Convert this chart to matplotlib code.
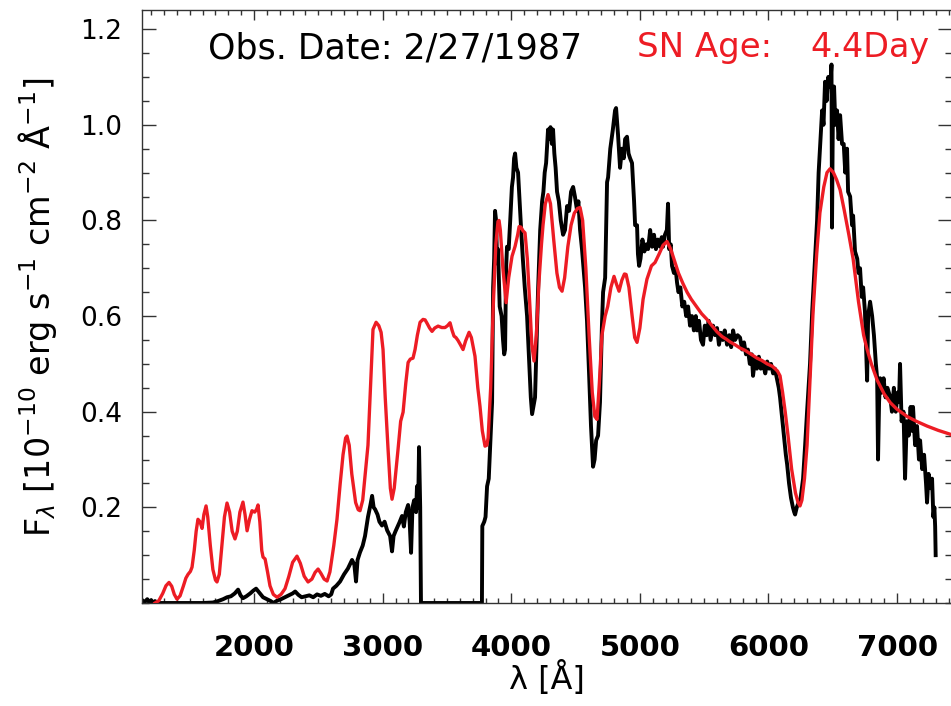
#!/usr/bin/env python3
import matplotlib
matplotlib.use("Agg")
import matplotlib.pyplot as plt
from matplotlib.ticker import MultipleLocator, FixedLocator

wl_obs = [
    1130, 1150, 1170, 1185, 1200, 1215, 1230, 1250, 1400, 1600, 1680, 1720,
    1760, 1790, 1820, 1850, 1876, 1895, 1914, 1940, 1970, 1995, 2016, 2040,
    2070, 2100, 2130, 2150, 2180, 2210, 2240, 2270, 2300, 2320, 2345, 2370,
    2400, 2430, 2460, 2490, 2520, 2550, 2580, 2600, 2614, 2640, 2669, 2700,
    2730, 2762, 2780, 2793, 2805, 2824, 2845, 2863, 2886, 2905, 2918, 2930,
    2941, 2960, 2975, 2995, 3015, 3035, 3058, 3073, 3085, 3100, 3112, 3130,
    3151, 3165, 3180, 3198, 3210, 3221, 3232, 3245, 3260, 3267, 3276, 3283,
    3292, 3298, 3400, 3600, 3772, 3775, 3790, 3800, 3812, 3825, 3840, 3851,
    3859, 3867, 3874, 3882, 3890, 3897, 3910, 3925, 3936, 3945, 3952, 3960,
    3967, 3980, 3992, 4005, 4014, 4022, 4030, 4040, 4053, 4065, 4077, 4090,
    4105, 4123, 4140, 4152, 4162, 4172, 4185, 4198, 4208, 4225, 4240, 4250,
    4260, 4271, 4286, 4296, 4305, 4316, 4325, 4335, 4345, 4356, 4370, 4385,
    4403, 4418, 4434, 4450, 4465, 4481, 4495, 4512, 4522, 4535, 4550, 4574,
    4589, 4605, 4620, 4636, 4648, 4660, 4675, 4690, 4705, 4714, 4730, 4745,
    4753, 4770, 4790, 4807, 4815, 4830, 4846, 4861, 4875, 4885, 4900, 4912,
    4924, 4939, 4955, 4963, 4978, 4985, 4994, 5005, 5020, 5035, 5050, 5064,
    5080, 5095, 5110, 5125, 5140, 5157, 5170, 5180, 5195, 5210, 5219, 5228,
    5240, 5250, 5265, 5278, 5289, 5300, 5315, 5330, 5345, 5360, 5375, 5390,
    5405, 5420, 5435, 5445, 5460, 5475, 5491, 5505, 5520, 5535, 5550, 5569,
    5585, 5600, 5615, 5630, 5645, 5660, 5678, 5695, 5710, 5725, 5740, 5760,
    5779, 5795, 5810, 5825, 5840, 5855, 5870, 5880, 5895, 5910, 5925, 5940,
    5958, 5975, 5990, 6005, 6020, 6036, 6050, 6065, 6080, 6090, 6105, 6120,
    6135, 6145, 6160, 6175, 6190, 6200, 6207, 6220, 6235, 6250, 6269, 6285,
    6300, 6323, 6340, 6350, 6362, 6378, 6390, 6405, 6417, 6428, 6440, 6452,
    6465, 6480, 6490, 6494, 6500, 6510, 6520, 6533, 6545, 6557, 6572, 6585,
    6597, 6611, 6619, 6635, 6650, 6658, 6673, 6690, 6700, 6712, 6725, 6736,
    6750, 6767, 6775, 6790, 6806, 6820, 6835, 6845, 6852, 6860, 6868, 6880,
    6895, 6910, 6925, 6947, 6960, 6975, 6990, 7005, 7015, 7023, 7035, 7050,
    7062, 7075, 7090, 7105, 7115, 7124, 7140, 7155, 7170, 7179, 7195, 7210,
    7225, 7233, 7245, 7260, 7272, 7282, 7290, 7296, 7300,
]
flux_obs = [
    0.006, 0.002, 0.008, 0.001, 0.006, 0.000, 0.004, 0.000, 0.000, 0.000, 0.001, 0.004,
    0.008, 0.012, 0.014, 0.020, 0.028, 0.016, 0.010, 0.014, 0.020, 0.026, 0.030, 0.022,
    0.012, 0.008, 0.004, 0.000, 0.005, 0.008, 0.012, 0.016, 0.020, 0.024, 0.017, 0.012,
    0.014, 0.016, 0.012, 0.018, 0.015, 0.019, 0.014, 0.018, 0.030, 0.036, 0.045, 0.060,
    0.072, 0.090, 0.080, 0.045, 0.090, 0.106, 0.120, 0.140, 0.180, 0.205, 0.224, 0.200,
    0.196, 0.185, 0.170, 0.162, 0.170, 0.152, 0.140, 0.108, 0.140, 0.150, 0.157, 0.168,
    0.182, 0.160, 0.190, 0.205, 0.170, 0.105, 0.200, 0.215, 0.190, 0.244, 0.200, 0.326,
    0.200, 0.000, 0.000, 0.000, 0.000, 0.161, 0.170, 0.180, 0.244, 0.260, 0.350, 0.420,
    0.660, 0.720, 0.820, 0.800, 0.710, 0.740, 0.620, 0.600, 0.550, 0.520, 0.530, 0.700,
    0.745, 0.740, 0.800, 0.870, 0.890, 0.930, 0.940, 0.910, 0.900, 0.840, 0.780, 0.720,
    0.660, 0.600, 0.500, 0.430, 0.395, 0.410, 0.430, 0.550, 0.650, 0.780, 0.840, 0.860,
    0.900, 0.920, 0.990, 0.970, 0.995, 0.960, 0.990, 0.940, 0.910, 0.860, 0.840, 0.800,
    0.770, 0.780, 0.830, 0.820, 0.860, 0.870, 0.850, 0.820, 0.840, 0.780, 0.740, 0.660,
    0.590, 0.480, 0.370, 0.285, 0.300, 0.340, 0.350, 0.420, 0.580, 0.650, 0.680, 0.880,
    0.890, 0.950, 0.990, 1.030, 1.035, 0.980, 0.910, 0.950, 0.930, 0.970, 0.975, 0.940,
    0.930, 0.920, 0.840, 0.790, 0.790, 0.730, 0.705, 0.720, 0.760, 0.735, 0.750, 0.740,
    0.780, 0.745, 0.770, 0.740, 0.760, 0.745, 0.765, 0.745, 0.770, 0.780, 0.835, 0.740,
    0.750, 0.705, 0.690, 0.700, 0.670, 0.650, 0.660, 0.620, 0.630, 0.600, 0.620, 0.580,
    0.600, 0.570, 0.600, 0.570, 0.590, 0.550, 0.540, 0.580, 0.560, 0.590, 0.550, 0.580,
    0.560, 0.575, 0.540, 0.565, 0.550, 0.570, 0.540, 0.560, 0.535, 0.570, 0.550, 0.560,
    0.555, 0.530, 0.545, 0.520, 0.530, 0.500, 0.520, 0.475, 0.510, 0.490, 0.515, 0.490,
    0.500, 0.480, 0.505, 0.490, 0.500, 0.480, 0.490, 0.470, 0.450, 0.430, 0.390, 0.350,
    0.310, 0.290, 0.250, 0.220, 0.200, 0.190, 0.185, 0.200, 0.210, 0.220, 0.260, 0.330,
    0.400, 0.500, 0.610, 0.660, 0.720, 0.800, 0.900, 0.970, 1.030, 1.000, 1.090, 1.050,
    1.100, 1.080, 1.126, 0.785, 1.000, 1.080, 1.000, 1.030, 0.970, 1.020, 0.960, 0.960,
    0.900, 0.950, 0.860, 0.850, 0.790, 0.810, 0.735, 0.720, 0.690, 0.700, 0.640, 0.660,
    0.610, 0.465, 0.600, 0.630, 0.600, 0.560, 0.500, 0.470, 0.300, 0.420, 0.470, 0.440,
    0.470, 0.430, 0.450, 0.430, 0.400, 0.450, 0.400, 0.440, 0.420, 0.500, 0.380, 0.400,
    0.260, 0.380, 0.350, 0.410, 0.360, 0.410, 0.330, 0.370, 0.300, 0.340, 0.280, 0.310,
    0.250, 0.210, 0.270, 0.240, 0.260, 0.180, 0.200, 0.160, 0.100,
]

# Model spectrum (red)
wl_mod = [
    1230, 1260, 1290, 1315, 1339, 1360, 1380, 1401, 1425, 1450, 1470, 1487,
    1505, 1518, 1535, 1550, 1564, 1580, 1596, 1610, 1627, 1640, 1660, 1680,
    1700, 1712, 1730, 1750, 1770, 1790, 1810, 1830, 1852, 1870, 1890, 1914,
    1930, 1946, 1965, 1984, 2005, 2020, 2031, 2045, 2060, 2070, 2086, 2105,
    2124, 2150, 2179, 2210, 2241, 2270, 2300, 2334, 2360, 2390, 2420, 2450,
    2475, 2498, 2520, 2545, 2568, 2590, 2620, 2645, 2670, 2692, 2712, 2723,
    2740, 2760, 2790, 2810, 2824, 2845, 2865, 2886, 2905, 2925, 2949, 2970,
    2988, 3003, 3020, 3042, 3060, 3073, 3090, 3120, 3140, 3159, 3180, 3198,
    3215, 3236, 3252, 3270, 3291, 3314, 3330, 3345, 3365, 3384, 3405, 3431,
    3460, 3485, 3505, 3524, 3540, 3555, 3570, 3586, 3605, 3625, 3645, 3672,
    3690, 3718, 3740, 3757, 3775, 3796, 3810, 3820, 3840, 3859, 3880, 3897,
    3905, 3915, 3935, 3960, 3980, 4006, 4030, 4050, 4061, 4075, 4092, 4107,
    4125, 4145, 4160, 4177, 4195, 4215, 4235, 4247, 4265, 4286, 4305, 4330,
    4355, 4375, 4395, 4415, 4440, 4465, 4490, 4515, 4535, 4555, 4580, 4605,
    4630, 4650, 4667, 4685, 4705, 4730, 4750, 4775, 4799, 4818, 4838, 4860,
    4880, 4893, 4915, 4940, 4960, 4978, 5000, 5025, 5055, 5090, 5118, 5150,
    5180, 5211, 5240, 5270, 5300, 5335, 5367, 5400, 5440, 5480, 5522, 5560,
    5600, 5640, 5670, 5701, 5740, 5780, 5820, 5860, 5911, 5950, 5990, 6030,
    6051, 6070, 6090, 6110, 6130, 6152, 6180, 6210, 6230, 6245, 6260, 6280,
    6300, 6320, 6347, 6375, 6400, 6430, 6455, 6479, 6505, 6530, 6557, 6590,
    6625, 6658, 6700, 6740, 6767, 6800, 6845, 6900, 6947, 7000, 7078, 7150,
    7233, 7320, 7412, 7430,
]
flux_mod = [
    0.000, 0.005, 0.020, 0.036, 0.043, 0.035, 0.018, 0.008, 0.015, 0.035, 0.052, 0.060,
    0.066, 0.075, 0.110, 0.150, 0.175, 0.170, 0.156, 0.185, 0.203, 0.180, 0.120, 0.070,
    0.048, 0.044, 0.060, 0.120, 0.180, 0.209, 0.190, 0.150, 0.134, 0.150, 0.190, 0.211,
    0.185, 0.151, 0.175, 0.193, 0.190, 0.196, 0.205, 0.170, 0.110, 0.096, 0.092, 0.065,
    0.036, 0.018, 0.012, 0.018, 0.030, 0.055, 0.085, 0.098, 0.083, 0.056, 0.044, 0.050,
    0.064, 0.071, 0.062, 0.050, 0.046, 0.065, 0.120, 0.175, 0.250, 0.310, 0.345, 0.349,
    0.330, 0.270, 0.210, 0.195, 0.193, 0.215, 0.270, 0.330, 0.450, 0.572, 0.587, 0.580,
    0.566, 0.530, 0.430, 0.322, 0.240, 0.217, 0.240, 0.322, 0.380, 0.399, 0.460, 0.503,
    0.510, 0.512, 0.530, 0.560, 0.587, 0.593, 0.592, 0.585, 0.575, 0.568, 0.575, 0.579,
    0.576, 0.576, 0.580, 0.586, 0.570, 0.558, 0.555, 0.549, 0.540, 0.530, 0.548, 0.566,
    0.555, 0.516, 0.450, 0.411, 0.360, 0.328, 0.330, 0.345, 0.450, 0.614, 0.750, 0.798,
    0.800, 0.780, 0.700, 0.628, 0.680, 0.725, 0.746, 0.770, 0.787, 0.786, 0.778, 0.774,
    0.720, 0.620, 0.540, 0.506, 0.560, 0.670, 0.750, 0.790, 0.835, 0.854, 0.835, 0.760,
    0.690, 0.660, 0.652, 0.680, 0.745, 0.790, 0.815, 0.825, 0.827, 0.800, 0.700, 0.560,
    0.440, 0.390, 0.384, 0.460, 0.560, 0.600, 0.620, 0.660, 0.683, 0.667, 0.652, 0.675,
    0.688, 0.687, 0.660, 0.600, 0.555, 0.545, 0.575, 0.635, 0.677, 0.705, 0.712, 0.730,
    0.748, 0.756, 0.740, 0.715, 0.690, 0.668, 0.650, 0.635, 0.620, 0.605, 0.593, 0.580,
    0.567, 0.557, 0.552, 0.546, 0.540, 0.533, 0.528, 0.521, 0.512, 0.507, 0.500, 0.495,
    0.490, 0.485, 0.475, 0.440, 0.400, 0.350, 0.280, 0.230, 0.210, 0.203, 0.215, 0.260,
    0.330, 0.450, 0.610, 0.730, 0.816, 0.870, 0.900, 0.908, 0.900, 0.885, 0.864, 0.820,
    0.770, 0.720, 0.630, 0.560, 0.530, 0.500, 0.466, 0.437, 0.419, 0.405, 0.390, 0.380,
    0.370, 0.361, 0.353, 0.350,
]

x_ticks = [2000, 3000, 4000, 5000, 6000, 7000]
y_ticks = [0.2, 0.4, 0.6, 0.8, 1.0, 1.2]

W, H = 951, 706
RED = "#ED1C24"


def plot():
    fig = plt.figure(figsize=(W / 100, H / 100), dpi=100)
    # axes box in pixels: left 141, right off the edge, top 10, bottom 603
    ax = fig.add_axes([141.5 / W, (H - 603) / H, (952 - 141.5) / W, (603 - 10) / H])

    ax.plot(wl_obs, flux_obs, color="black", lw=2.8, zorder=2)
    ax.plot(wl_mod, flux_mod, color=RED, lw=2.4, zorder=3)

    ax.set_xlim(1125, 7427)
    ax.set_ylim(0, 1.24)

    ax.xaxis.set_major_locator(FixedLocator(x_ticks))
    ax.xaxis.set_minor_locator(MultipleLocator(100))
    ax.yaxis.set_major_locator(FixedLocator(y_ticks))
    ax.yaxis.set_minor_locator(MultipleLocator(0.05))

    ax.tick_params(axis="both", which="both", direction="in",
                   top=True, right=True, width=1.0, color="#333333")
    ax.tick_params(axis="x", which="major", length=7, pad=22, labelsize=21)
    ax.tick_params(axis="x", which="minor", length=3.5)
    ax.tick_params(axis="y", which="major", length=10, pad=14, labelsize=19)
    ax.tick_params(axis="y", which="minor", length=5)
    for lab in ax.get_xticklabels():
        lab.set_fontweight("bold")
    for sp in ax.spines.values():
        sp.set_linewidth(1.0)
        sp.set_color("#333333")

    fig.text(547 / W, 1 - 679 / H, "λ [Å]", ha="center", va="center", fontsize=23)
    fig.text(38 / W, 1 - 307 / H,
             r"F$_\lambda$ [10$^{-10}$ erg s$^{-1}$ cm$^{-2}$ Å$^{-1}$]",
             rotation=90, ha="center", va="center", fontsize=24)

    fig.text(208 / W, 1 - 48 / H, "Obs. Date: 2/27/1987", ha="left", va="center",
             fontsize=25, color="black")
    fig.text(637 / W, 1 - 48 / H, "SN Age:", ha="left", va="center",
             fontsize=24.5, color=RED)
    fig.text(930 / W, 1 - 48 / H, "4.4Day", ha="right", va="center",
             fontsize=24, color=RED)

    fig.savefig("out.png", dpi=100)


def main():
    plot()


if __name__ == "__main__":
    main()
